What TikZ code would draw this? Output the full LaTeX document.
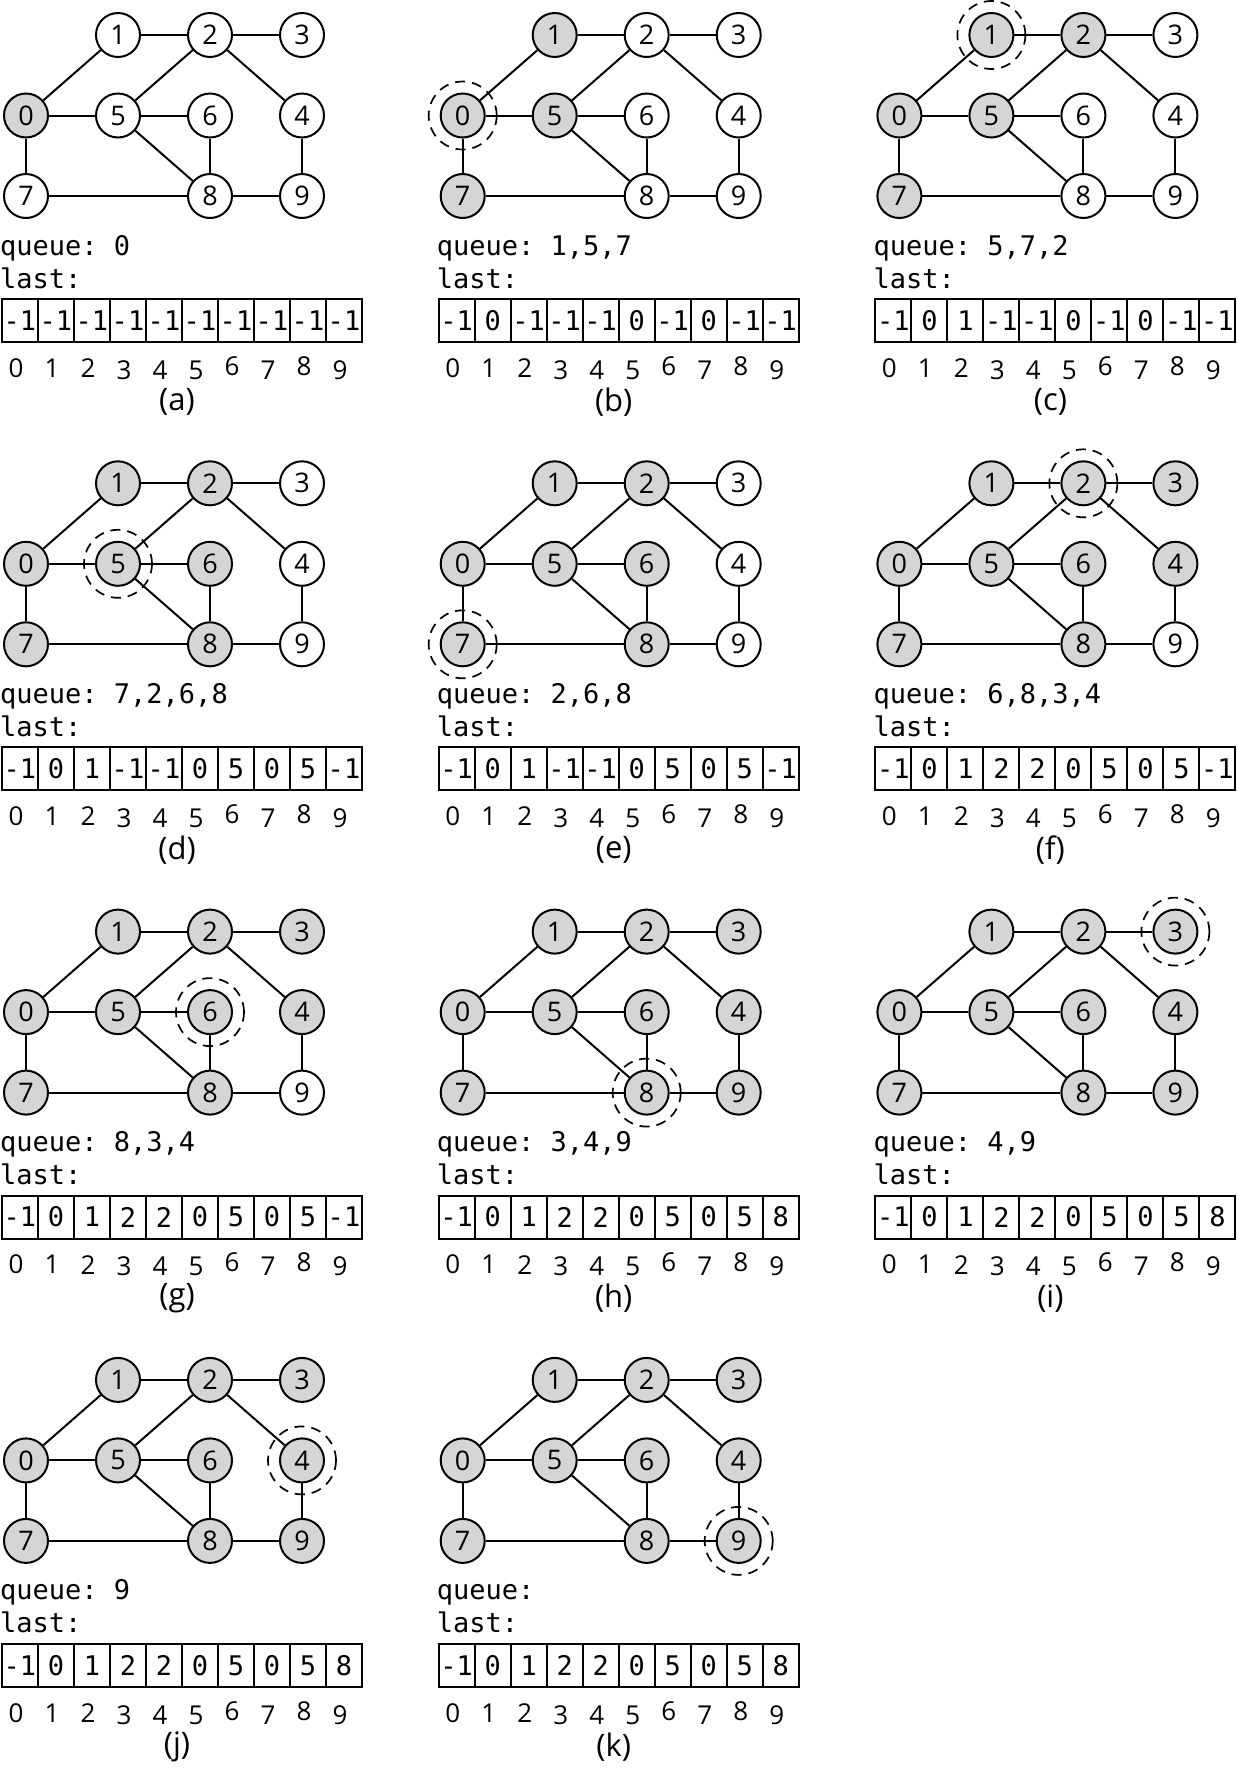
\documentclass[tikz,border=0pt]{standalone}
\usepackage{fontspec}
\setmainfont{Open Sans}
\setmonofont{DejaVu Sans Mono}
\usepackage{tikz}
\definecolor{visitgray}{RGB}{212, 213, 215}

\begin{document}
\begin{tikzpicture}[
  x=1pt, y=-1pt,
  vert/.style={
    circle, draw, line width=2pt, minimum size=44pt, inner sep=0pt,
    font=\fontsize{27}{30}\selectfont
  },
  link/.style={line width=2pt},
  current/.style={
    circle, draw, dash pattern=on 10pt off 7pt, line width=1.7pt,
    minimum size=68pt, inner sep=0pt
  },
  cell/.style={
    draw, line width=2pt, minimum width=36pt, minimum height=43pt,
    inner sep=0pt, font=\ttfamily\fontsize{27}{30}\selectfont
  },
  mono/.style={anchor=base west, inner sep=0pt, font=\ttfamily\fontsize{27}{30}\selectfont},
  idx/.style={inner sep=0pt, font=\fontsize{26}{30}\selectfont},
  caption/.style={inner sep=0pt, font=\fontsize{31}{34}\selectfont}
]
  \useasboundingbox (0,0) rectangle (1238,1773);

  % one panel per step of the search
  \foreach \col/\row/\lab/\seen/\ring/\queuetxt/\lastrow in {
    0/0/a/1/-1/0/{-1,-1,-1,-1,-1,-1,-1,-1,-1,-1},
    1/0/b/4/0/{1,5,7}/{-1,0,-1,-1,-1,0,-1,0,-1,-1},
    2/0/c/5/1/{5,7,2}/{-1,0,1,-1,-1,0,-1,0,-1,-1},
    0/1/d/7/5/{7,2,6,8}/{-1,0,1,-1,-1,0,5,0,5,-1},
    1/1/e/7/7/{2,6,8}/{-1,0,1,-1,-1,0,5,0,5,-1},
    2/1/f/9/2/{6,8,3,4}/{-1,0,1,2,2,0,5,0,5,-1},
    0/2/g/9/6/{8,3,4}/{-1,0,1,2,2,0,5,0,5,-1},
    1/2/h/10/8/{3,4,9}/{-1,0,1,2,2,0,5,0,5,8},
    2/2/i/10/3/{4,9}/{-1,0,1,2,2,0,5,0,5,8},
    0/3/j/10/4/9/{-1,0,1,2,2,0,5,0,5,8},
    1/3/k/10/9/{}/{-1,0,1,2,2,0,5,0,5,8}}{
  \begin{scope}[shift={(436.7*\col,448.3*\row)}]
    % vertices (gray once reached)
    \foreach \n/\cx/\cy/\rk in {0/0/1/1, 1/1/0/2, 2/2/0/5, 3/3/0/8, 4/3/1/9,
                                5/1/1/3, 6/2/1/6, 7/0/2/4, 8/2/2/7, 9/3/2/10}{
      \ifnum\rk>\seen \def\fc{white}\else \def\fc{visitgray}\fi
      \node[vert, fill=\fc] (\lab\n) at (26+92*\cx, 35+80.5*\cy) {\n};
    }
    \foreach \ea/\eb in {0/1, 0/5, 0/7, 1/2, 2/3, 2/5, 2/4, 5/6, 5/8, 6/8, 4/9, 7/8, 8/9}
      \draw[link] (\lab\ea) -- (\lab\eb);
    % vertex being processed
    \ifnum\ring>-1
      \node[current] (\lab-ring) at (\lab\ring) {};
    \fi

    \node[mono] (\lab-queue) at (0,255) {queue: \queuetxt};
    \node[mono] (\lab-last) at (0,288) {last:};

    % the last array
    \foreach \val [count=\k from 0] in \lastrow
      \node[cell] (\lab-c\k) at (20+36*\k, 320.5) {\val};
    \foreach \k/\dy in {0/0, 1/0, 2/0, 3/2, 4/2, 5/2, 6/-2, 7/2, 8/-2, 9/2}
      \node[idx] (\lab-i\k) at (16+36*\k, 368+\dy) {\k};

    \node[caption] (\lab-cap) at (177,402) {(\lab)};
  \end{scope}
  }
\end{tikzpicture}
\end{document}
